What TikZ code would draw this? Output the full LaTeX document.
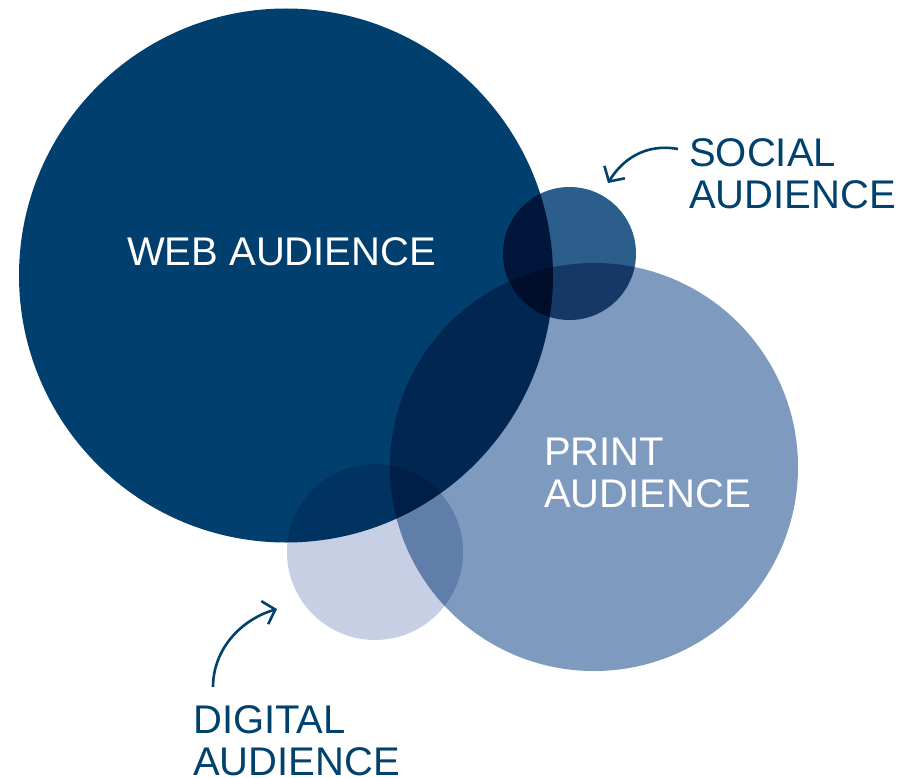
\documentclass[tikz,border=0pt]{standalone}
\usepackage{fontspec}
\setmainfont{Liberation Sans}
\usetikzlibrary{arrows.meta}
\definecolor{webc}{HTML}{003F6E}
\definecolor{printc}{HTML}{7E9ABE}
\definecolor{digc}{HTML}{C6CFE3}
\definecolor{socc}{HTML}{2B5E8B}
\definecolor{navy}{HTML}{00416E}
\begin{document}
\begin{tikzpicture}[x=1pt,y=-1pt,
  circ/.style={blend mode=multiply},
  lbl/.style={font=\fontsize{40}{42}\selectfont, align=left, inner sep=0pt, anchor=base west},
  pointer/.style={draw=navy, line width=2.6pt, -{Straight Barb[length=11pt,width=24pt,line width=2.6pt]}}]
\useasboundingbox (0,0) rectangle (915,778);
\fill[circ, webc] (286,275.5) circle[radius=267];
\fill[circ, printc] (594,467) circle[radius=204];
\fill[circ, socc] (569.5,253.5) circle[radius=66.5];
\fill[circ, digc] (375,552) circle[radius=88];
\node[lbl, white] (web) at (127,265) {WEB AUDIENCE};
\node[lbl, white] (print) at (544,507) {PRINT\\AUDIENCE};
\node[lbl, navy] (social) at (689,208) {SOCIAL\\AUDIENCE};
\node[lbl, navy] (digital) at (193,775) {DIGITAL\\AUDIENCE};
\coordinate (s0) at (678,149);
\coordinate (s1) at (608,183);
\coordinate (d0) at (213,687);
\coordinate (d1) at (277,609);
\draw[pointer] (s0) .. controls (645,143) and (622,160) .. (s1);
\draw[pointer] (d0) .. controls (213,650) and (240,620) .. (d1);
\end{tikzpicture}
\end{document}
